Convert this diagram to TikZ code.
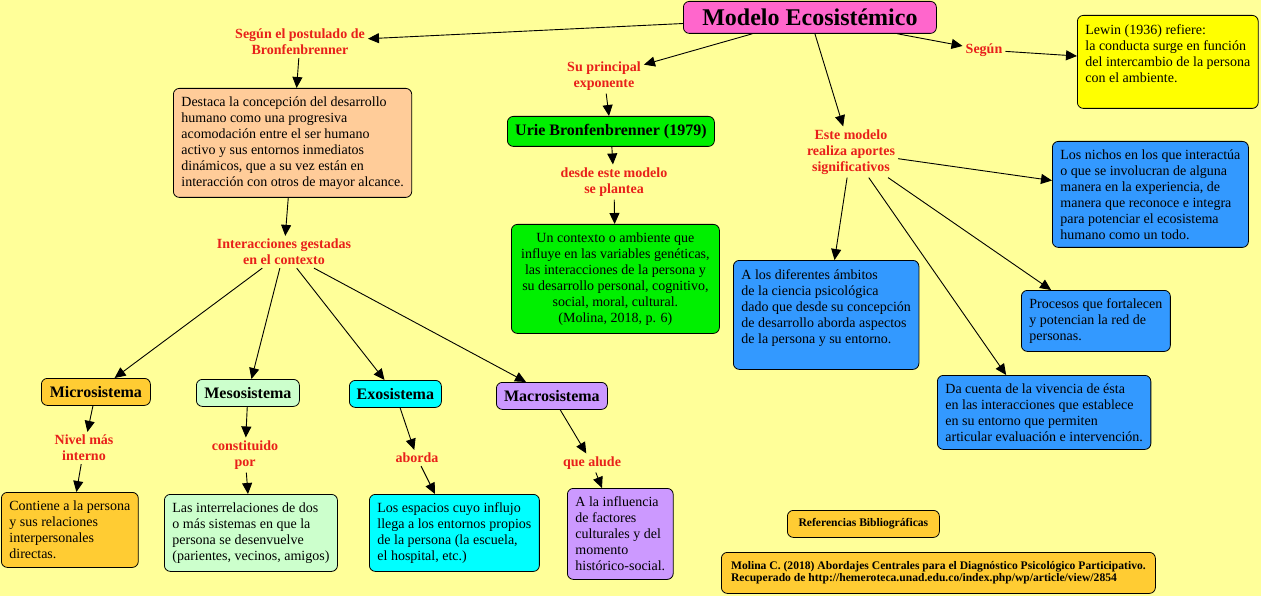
\documentclass[tikz,border=0pt]{standalone}
\usepackage{fontspec}
\setmainfont{Liberation Serif}
\usepackage{xcolor}
\usetikzlibrary{arrows.meta}

\definecolor{fondo}{HTML}{FFFF99}
\definecolor{rosa}{HTML}{FF66CC}
\definecolor{naranja}{HTML}{FFCC99}
\definecolor{verde}{HTML}{00F000}
\definecolor{verdeclaro}{HTML}{CCFFCC}
\definecolor{celeste}{HTML}{00FFFF}
\definecolor{lila}{HTML}{CC99FF}
\definecolor{azul}{HTML}{3399FF}
\definecolor{amarillo}{HTML}{FFFF00}
\definecolor{ocre}{HTML}{FFCC33}
\definecolor{rojo}{HTML}{E8201A}

\begin{document}
\begin{tikzpicture}[x=1pt, y=-1pt,
    caja/.style={draw, rounded corners=6pt, line width=0.8pt, anchor=north west,
        inner xsep=8pt, inner ysep=6pt, align=left, font=\fontsize{14}{16}\selectfont},
    rotulo/.style={draw, rounded corners=6pt, line width=0.8pt, anchor=north west,
        inner sep=0pt, font=\bfseries\fontsize{16}{18}\selectfont},
    etiqueta/.style={text=rojo, align=center, inner sep=3pt, font=\bfseries\fontsize{14}{16}\selectfont},
    flecha/.style={line width=0.9pt, -{Triangle[length=11pt,width=10pt]}}]
            % fondo
            \useasboundingbox (0,0) rectangle (1261,596);
            \fill[fondo] (0,0) rectangle (1261,596);

            % titulo
            \node[rotulo, fill=rosa, minimum width=253pt, minimum height=32pt, font=\bfseries\fontsize{24}{28}\selectfont] (modelo) at (683,1) {Modelo Ecosistémico};

            % rama izquierda
            \node[etiqueta] (postulado) at (300,42) {Según el postulado de\\Bronfenbrenner};
            \node[caja, fill=naranja, minimum height=109pt] (concepcion) at (173,88) {Destaca la concepción del desarrollo\\humano como una progresiva\\acomodación entre el ser humano\\activo y sus entornos inmediatos\\dinámicos, que a su vez están en\\interacción con otros de mayor alcance.};
            \node[etiqueta] (gestadas) at (284,252) {Interacciones gestadas\\en el contexto};

            % sistemas
            \node[rotulo, fill=ocre, minimum width=109pt, minimum height=27pt] (micro) at (41,378) {Microsistema};
            \node[rotulo, fill=verdeclaro, minimum width=103pt, minimum height=27pt] (meso) at (196,379) {Mesosistema};
            \node[rotulo, fill=celeste, minimum width=92pt, minimum height=27pt] (exo) at (349,380) {Exosistema};
            \node[rotulo, fill=lila, minimum width=111pt, minimum height=27pt] (macro) at (496,382) {Macrosistema};

            \node[etiqueta] (interno) at (84,448) {Nivel más\\interno};
            \node[etiqueta] (constituido) at (245,455) {constituido\\por};
            \node[etiqueta] (aborda) at (417,458) {aborda};
            \node[etiqueta] (alude) at (592,463) {que alude};

            \node[caja, fill=ocre, minimum height=75pt] (contiene) at (1,492) {Contiene a la persona\\y sus relaciones\\interpersonales\\directas.};
            \node[caja, fill=verdeclaro, minimum height=77pt] (interrelaciones) at (164,494) {Las interrelaciones de dos\\o más sistemas en que la\\persona se desenvuelve\\(parientes, vecinos, amigos)};
            \node[caja, fill=celeste, minimum height=77pt] (espacios) at (369,494) {Los espacios cuyo influjo\\llega a los entornos propios\\de la persona (la escuela,\\el hospital, etc.)};
            \node[caja, fill=lila, minimum height=91pt] (influencia) at (567,488) {A la influencia\\de factores\\culturales y del\\momento\\histórico-social.};

            % rama central
            \node[etiqueta] (exponente) at (604,76) {Su principal\\exponente};
            \node[rotulo, fill=verde, minimum width=207pt, minimum height=30pt] (urie) at (507,116) {Urie Bronfenbrenner (1979)};
            \node[etiqueta] (plantea) at (614,182) {desde este modelo\\se plantea};
            \node[caja, fill=verde, align=center, minimum width=208pt, minimum height=109pt] (contexto) at (511,224) {Un contexto o ambiente que\\influye en las variables genéticas,\\las interacciones de la persona y\\su desarrollo personal, cognitivo,\\social, moral, cultural.\\(Molina, 2018, p. 6)};

            % rama derecha
            \node[etiqueta] (segun) at (984,50) {Según};
            \node[caja, fill=amarillo, minimum height=93pt] (lewin) at (1077,15) {Lewin (1936) refiere:\\la conducta surge en función\\del intercambio de la persona\\con el ambiente.\\\mbox{}};
            \node[etiqueta] (aportes) at (851,152) {Este modelo\\realiza aportes\\significativos};
            \node[caja, fill=azul, minimum height=106pt] (nichos) at (1052,141) {Los nichos en los que interactúa\\o que se involucran de alguna\\manera en la experiencia, de\\manera que reconoce e integra\\para potenciar el ecosistema\\humano como un todo.};
            \node[caja, fill=azul, minimum height=109pt] (ambitos) at (733,260) {A los diferentes ámbitos\\de la ciencia psicológica\\dado que desde su concepción\\de desarrollo aborda aspectos\\de la persona y su entorno.\\\mbox{}};
            \node[caja, fill=azul, minimum height=61pt] (procesos) at (1021,290) {Procesos que fortalecen\\y potencian la red de\\personas.};
            \node[caja, fill=azul, minimum height=74pt] (vivencia) at (937,375) {Da cuenta de la vivencia de ésta\\en las interacciones que establece\\en su entorno que permiten\\articular evaluación e intervención.};

            % referencias
            \node[rotulo, fill=ocre, minimum width=152pt, minimum height=27pt, font=\bfseries\fontsize{11.6}{12.5}\selectfont] (referencias) at (787,510) {Referencias Bibliográficas};
            \node[rotulo, fill=ocre, minimum width=434pt, minimum height=41pt, align=left, font=\bfseries\fontsize{11.6}{12.5}\selectfont] (molina) at (721,552) {Molina C. (2018) Abordajes Centrales para el Diagnóstico Psicológico Participativo.\\Recuperado de http://hemeroteca.unad.edu.co/index.php/wp/article/view/2854};

            % flechas
            \draw[flecha] (modelo) -- (postulado);
            \draw[flecha] (postulado) -- (concepcion);
            \draw[flecha] (concepcion) -- (gestadas);
            \draw[flecha] (gestadas) -- (micro);
            \draw[flecha] (gestadas) -- (meso);
            \draw[flecha] (gestadas) -- (exo);
            \draw[flecha] (gestadas) -- (macro);
            \draw[flecha] (micro) -- (interno);
            \draw[flecha] (interno) -- (contiene);
            \draw[flecha] (meso) -- (constituido);
            \draw[flecha] (constituido) -- (interrelaciones);
            \draw[flecha] (exo) -- (aborda);
            \draw[flecha] (aborda) -- (espacios);
            \draw[flecha] (macro) -- (alude);
            \draw[flecha] (alude) -- (influencia);
            \draw[flecha] (modelo) -- (exponente);
            \draw[flecha] (exponente) -- (urie);
            \draw[flecha] (urie) -- (plantea);
            \draw[flecha] (plantea) -- (contexto);
            \draw[flecha] (modelo) -- (segun);
            \draw[flecha] (segun) -- (lewin);
            \draw[flecha] (modelo) -- (aportes);
            \draw[flecha] (aportes) -- (nichos);
            \draw[flecha] (aportes) -- (ambitos);
            \draw[flecha] (aportes) -- ([xshift=-38pt]vivencia.north);
            \draw[flecha] (aportes) -- (procesos);
\end{tikzpicture}
\end{document}
